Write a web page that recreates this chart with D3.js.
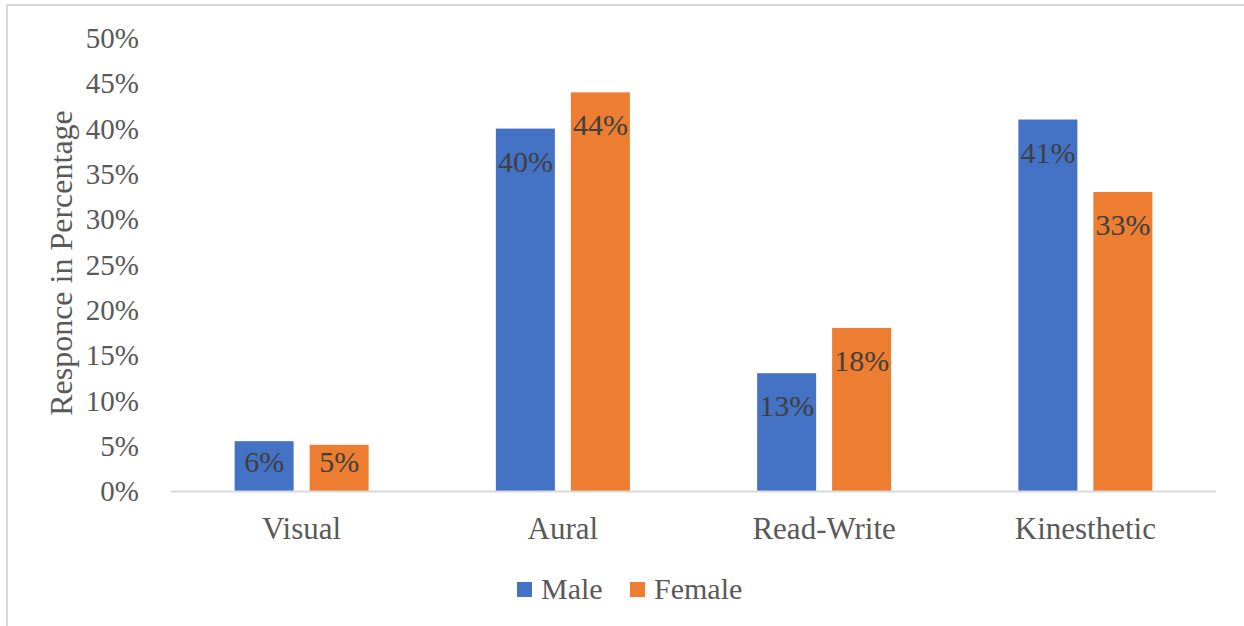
<!DOCTYPE html>
<html>
<head>
<meta charset="utf-8">
<script src="https://cdn.jsdelivr.net/npm/d3@7"></script>
<style>
  body { margin: 0; background: #fff; }
  svg text { font-family: 'Liberation Serif', 'Times New Roman', 'DejaVu Serif', serif; }
</style>
</head>
<body>
<svg id="viz"></svg>
<script>
var width = 1244;
var height = 626;

// data
var categories = ["Visual", "Aural", "Read-Write", "Kinesthetic"];
var seriesNames = ["Male", "Female"];
var maleValues = [0.055, 0.40, 0.13, 0.41];
var femaleValues = [0.051, 0.44, 0.18, 0.33];
var yTicks = [0, 0.05, 0.10, 0.15, 0.20, 0.25, 0.30, 0.35, 0.40, 0.45, 0.50];
var colors = ["#4472c4", "#ed7d31"];

var serif = "'Liberation Serif', 'Times New Roman', 'DejaVu Serif', serif";

var svg = d3.select("#viz")
    .attr("width", width)
    .attr("height", height)
    .style("font-family", serif);

// frame
svg.append("rect")
    .attr("x", 7).attr("y", 5)
    .attr("width", 1300).attr("height", 700)
    .attr("fill", "none")
    .attr("stroke", "#d9d9d9")
    .attr("stroke-width", 2);

var plotLeft = 171, plotRight = 1216;

var x0 = d3.scaleBand()
    .domain(categories)
    .range([plotLeft, plotRight]);

var bw = x0.bandwidth();
var x1 = d3.scaleBand()
    .domain(seriesNames)
    .range([(bw - 134) / 2, (bw + 134) / 2])
    .paddingInner(16 / 75);

var y = d3.scaleLinear()
    .domain([0, 0.5])
    .range([491, 38]);

var fmt = d3.format(".0%");

// y tick labels
svg.append("g").selectAll("text")
    .data(yTicks)
    .enter().append("text")
    .attr("x", 139)
    .attr("y", function(d) { return y(d); })
    .attr("dy", "0.35em")
    .attr("text-anchor", "end")
    .attr("fill", "#595959")
    .style("font-size", "29px")
    .text(function(d) { return fmt(d); });

// axis title
svg.append("text")
    .attr("transform", "translate(72," + 263 + ") rotate(-90)")
    .attr("text-anchor", "middle")
    .attr("fill", "#595959")
    .style("font-size", "32px")
    .text("Responce in Percentage");

// rows for bars
var rows = categories.map(function(c, i) {
    return [
        { cat: c, series: "Male", value: maleValues[i], color: colors[0] },
        { cat: c, series: "Female", value: femaleValues[i], color: colors[1] }
    ];
});

var groups = svg.append("g").selectAll("g")
    .data(rows)
    .enter().append("g")
    .attr("transform", function(d) { return "translate(" + x0(d[0].cat) + ",0)"; });

groups.selectAll("rect")
    .data(function(d) { return d; })
    .enter().append("rect")
    .attr("x", function(d) { return x1(d.series); })
    .attr("y", function(d) { return y(d.value); })
    .attr("width", x1.bandwidth())
    .attr("height", function(d) { return y(0) - y(d.value); })
    .attr("fill", function(d) { return d.color; });

groups.selectAll("text")
    .data(function(d) { return d; })
    .enter().append("text")
    .attr("x", function(d) { return x1(d.series) + x1.bandwidth() / 2; })
    .attr("y", function(d) { return Math.min(y(d.value) + 43, y(0) - 19); })
    .attr("text-anchor", "middle")
    .attr("fill", "#404040")
    .style("font-size", "30px")
    .text(function(d) { return fmt(d.value); });

// baseline
svg.append("line")
    .attr("x1", plotLeft).attr("x2", plotRight)
    .attr("y1", y(0) + 0.5).attr("y2", y(0) + 0.5)
    .attr("stroke", "#d9d9d9")
    .attr("stroke-width", 2);

// category labels
svg.append("g").selectAll("text")
    .data(categories)
    .enter().append("text")
    .attr("x", function(d) { return x0(d) + bw / 2; })
    .attr("y", 539)
    .attr("text-anchor", "middle")
    .attr("fill", "#595959")
    .style("font-size", "31px")
    .text(function(d) { return d; });

// legend
var legendX = [517, 630];
var legend = svg.append("g").selectAll("g")
    .data(seriesNames)
    .enter().append("g")
    .attr("transform", function(d, i) { return "translate(" + legendX[i] + ",582)"; });

legend.append("rect")
    .attr("width", 15).attr("height", 15)
    .attr("fill", function(d, i) { return colors[i]; });

legend.append("text")
    .attr("x", 24)
    .attr("y", 17)
    .attr("fill", "#595959")
    .style("font-size", "30px")
    .text(function(d) { return d; });
</script>
</body>
</html>
